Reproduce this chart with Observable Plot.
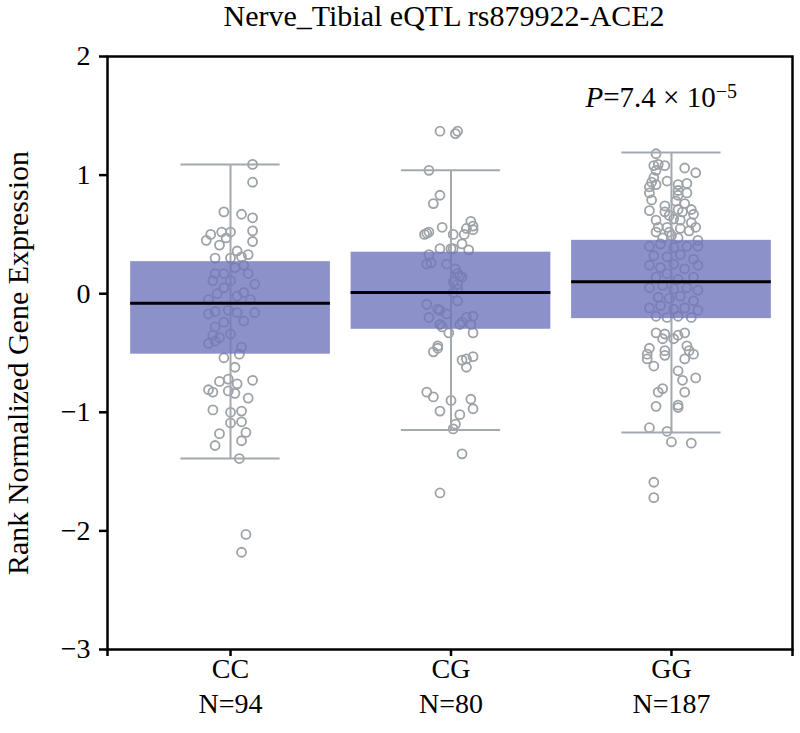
<!DOCTYPE html>
<html>
<head>
<meta charset="utf-8">
<script src="https://cdn.jsdelivr.net/npm/d3@7"></script>
<script src="https://cdn.jsdelivr.net/npm/@observablehq/plot@0.6"></script>
<style>
  html, body { margin: 0; padding: 0; background: white; }
  #chart { width: 800px; height: 733px; }
</style>
</head>
<body>
<div id="chart"></div>
<script>
const title = "Nerve_Tibial eQTL rs879922-ACE2";
const yLabel = "Rank Normalized Gene Expression";
const pValueLabel = "P=7.4×10−5";
const categories = ["CC", "CG", "GG"];
const sampleSizes = [94, 80, 187];
const whiskerHigh = [1.09, 1.04, 1.19];
const q3 = [0.27, 0.35, 0.45];
const medians = [-0.08, 0.01, 0.10];
const q1 = [-0.51, -0.30, -0.21];
const whiskerLow = [-1.39, -1.15, -1.17];
const yTicks = [-3, -2, -1, 0, 1, 2];

// points: [horizontal jitter (in category units), expression value]
const ccPoints = [
  [0.10,1.09],[0.10,0.94],[-0.03,0.69],[0.05,0.67],[0.10,0.64],[0.10,0.53],[0.10,0.44],[-0.04,0.52],[0.00,0.52],[-0.11,0.45],[-0.09,0.50],[-0.05,0.41],[-0.02,0.47],[-0.07,0.30],[0.00,0.30],[0.03,0.36],[0.08,0.33],[0.05,0.31],
  [-0.08,0.11],[-0.03,0.17],[0.02,0.22],[0.06,0.24],[0.11,0.08],[-0.06,0.00],[0.03,-0.02],[0.06,0.01],[-0.10,-0.17],[-0.07,-0.28],[-0.03,-0.24],[-0.08,-0.35],[-0.05,-0.37],[0.00,-0.34],[0.06,-0.23],[0.11,-0.16],[0.05,-0.45],[-0.07,-0.40],[-0.10,-0.42],[-0.07,0.17],[0.00,0.11],[0.08,0.17],[-0.10,-0.05],[-0.01,-0.14],[0.09,-0.05],[0.03,-0.16],[-0.07,-0.15],[-0.03,0.05],
  [-0.03,-0.54],[0.04,-0.51],[0.02,-0.62],[-0.01,-0.72],[-0.05,-0.74],[0.03,-0.76],[0.10,-0.73],[-0.10,-0.81],[-0.08,-0.83],[-0.01,-0.82],[0.02,-0.84],[0.08,-0.88],[-0.08,-0.98],[0.00,-1.00],[0.05,-0.99],[0.00,-1.09],[0.05,-1.08],[-0.05,-1.18],[0.07,-1.17],[0.05,-1.24],[-0.07,-1.28],[0.04,-1.39],[0.07,-2.03],[0.05,-2.18]
];
const cgPoints = [
  [-0.05,1.37],[0.02,1.35],[0.03,1.37],[-0.10,1.04],[-0.05,0.83],[-0.08,0.76],[-0.04,0.56],[-0.11,0.51],[-0.10,0.52],[-0.12,0.50],[0.01,0.50],[0.06,0.50],[0.09,0.61],[0.10,0.57],[0.07,0.55],[0.10,0.54],[-0.05,0.38],[0.00,0.38],[0.08,0.37],[0.05,0.42],
  [-0.10,0.33],[0.01,0.38],[-0.11,0.25],[-0.02,0.25],[0.03,0.17],[0.05,0.14],[0.03,0.08],[0.01,0.01],[0.03,-0.06],[-0.11,-0.09],[-0.05,-0.14],[-0.10,-0.20],[-0.02,-0.17],[-0.05,-0.26],[0.07,-0.20],[0.10,-0.19],[0.04,-0.26],[-0.04,-0.28],[-0.09,0.26],[0.02,0.21],[0.04,0.15],[0.01,0.10],[0.03,0.04],[-0.06,-0.13],
  [-0.05,-0.26],[0.09,-0.26],[0.05,-0.24],[-0.01,-0.33],[0.10,-0.33],[-0.06,-0.44],[-0.08,-0.49],[-0.06,-0.46],[0.05,-0.56],[0.07,-0.55],[0.10,-0.53],[0.07,-0.62],[-0.11,-0.83],[-0.08,-0.87],[0.00,-0.90],[0.09,-0.89],[0.10,-0.97],[-0.05,-0.99],[0.04,-1.02],[0.02,-1.10],[0.01,-1.14],[0.05,-1.35],[-0.05,-1.68]
];
const ggPoints = [
  [-0.07,1.18],[-0.08,1.08],[-0.06,1.09],[-0.03,1.08],[-0.07,1.04],[0.06,1.06],[0.11,1.02],[-0.08,0.98],[-0.09,0.94],[-0.10,0.90],[-0.07,0.92],[-0.10,0.85],[-0.09,0.79],[-0.10,0.70],[-0.02,0.95],[0.03,0.92],[0.07,0.93],[0.03,0.87],[0.03,0.83],[0.07,0.85],[0.02,0.78],[0.06,0.76],[0.09,0.71],[0.10,0.67],[0.05,0.69],[0.03,0.71],[-0.03,0.74],[-0.03,0.69],[-0.01,0.66],[0.01,0.63],[0.04,0.62],[0.09,0.60],[0.11,0.56],[0.08,0.53],[0.04,0.55],[-0.01,0.52],[-0.07,0.62],[-0.06,0.56],[-0.07,0.52],[-0.02,0.56],[0.12,0.45],[0.03,0.47],[0.00,0.49],[-0.04,0.47],
  [-0.10,0.40],[-0.05,0.42],[0.01,0.39],[0.07,0.40],[0.12,0.40],[-0.08,0.32],[-0.02,0.31],[0.04,0.33],[0.10,0.29],[-0.10,0.24],[-0.05,0.22],[0.01,0.25],[0.06,0.21],[0.12,0.24],[-0.07,0.14],[-0.02,0.17],[0.03,0.12],[0.10,0.14],[-0.10,0.05],[-0.04,0.07],[0.01,0.04],[0.07,0.05],[0.12,0.03],[-0.06,-0.03],[-0.01,-0.04],[0.04,-0.02],[0.10,-0.06],[-0.10,-0.12],[-0.05,-0.10],[0.01,-0.13],[0.06,-0.12],[0.12,-0.14],[-0.07,-0.19],[-0.02,-0.20],[0.03,-0.19],[0.09,-0.20],
  [-0.07,-0.33],[-0.03,-0.34],[0.03,-0.35],[0.06,-0.33],[-0.04,-0.38],[0.01,-0.38],[-0.10,-0.46],[-0.11,-0.51],[-0.11,-0.55],[-0.03,-0.48],[-0.03,-0.52],[0.07,-0.44],[0.08,-0.48],[0.10,-0.51],[0.06,-0.55],[-0.08,-0.61],[0.03,-0.65],[0.05,-0.73],[0.11,-0.71],[-0.04,-0.80],[-0.06,-0.83],[0.06,-0.83],[-0.07,-0.95],[0.03,-0.94],[0.03,-0.96],[-0.10,-1.13],[-0.02,-1.16],[0.00,-1.25],[0.09,-1.26],[-0.08,-1.59],[-0.08,-1.72]
];

const pointGroups = [ccPoints, cgPoints, ggPoints];
const points = pointGroups.flatMap((pts, i) => pts.map(([j, v]) => ({i, j, v})));
const boxes = categories.map((c, i) => ({
  i, c, n: sampleSizes[i], lo: whiskerLow[i], q1: q1[i], med: medians[i], q3: q3[i], hi: whiskerHigh[i]
}));

const boxHalf = 0.453, capHalf = 0.225;
const greyLine = "#a3a9ae";

const chart = Plot.plot({
  width: 800,
  height: 733,
  marginTop: 56,
  marginBottom: 84,
  marginLeft: 107,
  marginRight: 8,
  style: {fontFamily: "'Liberation Serif', 'Times New Roman', serif", fontSize: "28px", background: "white", color: "black"},
  x: {domain: [-0.558, 2.549]},
  y: {domain: [-3, 2]},
  marks: [
    Plot.dot(points, {x: d => d.i + d.j, y: "v", r: 4.5, stroke: "#9ca2a7", strokeWidth: 1.8, fill: "none"}),
    Plot.ruleX(boxes, {x: "i", y1: "lo", y2: "hi", stroke: greyLine, strokeWidth: 2}),
    Plot.ruleY(boxes, {y: "hi", x1: d => d.i - capHalf, x2: d => d.i + capHalf, stroke: greyLine, strokeWidth: 2}),
    Plot.ruleY(boxes, {y: "lo", x1: d => d.i - capHalf, x2: d => d.i + capHalf, stroke: greyLine, strokeWidth: 2}),
    Plot.rect(boxes, {x1: d => d.i - boxHalf, x2: d => d.i + boxHalf, y1: "q1", y2: "q3", fill: "rgb(112,117,188)", fillOpacity: 0.8}),
    Plot.ruleY(boxes, {y: "med", x1: d => d.i - boxHalf, x2: d => d.i + boxHalf, stroke: "black", strokeWidth: 3}),
    Plot.axisY({ticks: yTicks, tickFormat: d3.format("d"), tickSize: 8, tickPadding: 9, strokeWidth: 2.5, fontSize: 28, label: null}),
    Plot.axisX({
      ticks: [-0.558, 0, 1, 2, 2.549],
      tickFormat: d => Number.isInteger(d) ? `${categories[d]}\nN=${sampleSizes[d]}` : "",
      tickSize: 7, tickPadding: -3, strokeWidth: 2.5, fontSize: 28, lineHeight: 1.25, label: null
    }),
    Plot.frame({stroke: "black", strokeWidth: 2.5}),
    Plot.text([title], {text: d => d, frameAnchor: "top", dx: -6, dy: -40, fontSize: 30, lineAnchor: "middle"}),
    Plot.text([yLabel], {text: d => d, frameAnchor: "left", rotate: -90, dx: -89, dy: 10, fontSize: 30, lineAnchor: "middle", textAnchor: "middle"}),
    Plot.text([pValueLabel], {text: d => d, frameAnchor: "top-left", dx: 478, dy: 41, textAnchor: "start", lineAnchor: "middle", fontSize: 29})
  ]
});

document.getElementById("chart").appendChild(chart);

// typeset the P-value annotation: italic P and superscript exponent
d3.select(chart).selectAll("text")
  .filter(function () { return this.textContent === pValueLabel; })
  .each(function () {
    const t = d3.select(this);
    t.text(null);
    t.append("tspan").attr("font-style", "italic").text("P");
    t.append("tspan").text("=7.4\u2005×\u200510");
    t.append("tspan").attr("dy", "-0.45em").attr("font-size", "20px").text("−5");
  });
</script>
</body>
</html>
